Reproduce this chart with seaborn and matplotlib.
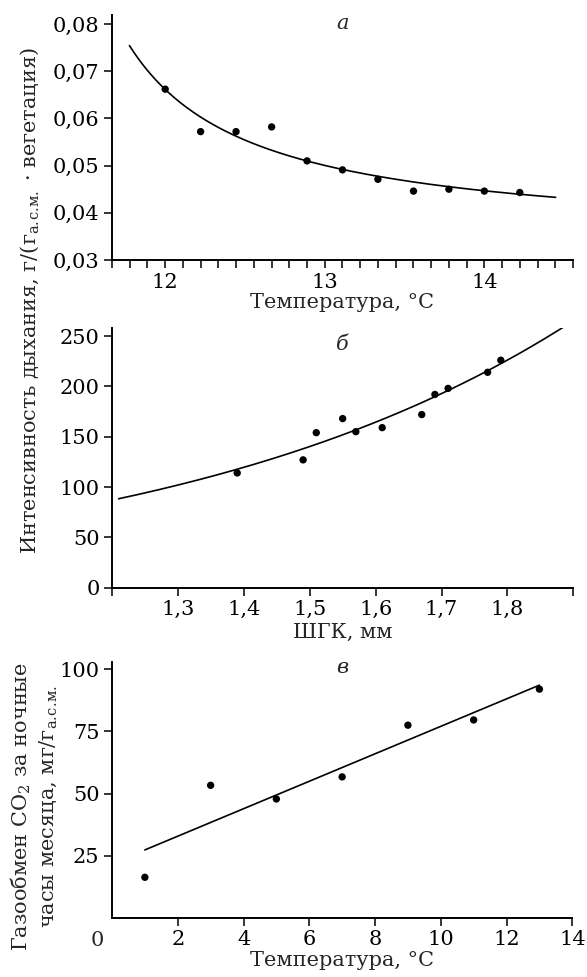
import numpy as np
import pandas as pd
import seaborn as sns
import matplotlib.pyplot as plt
import matplotlib.ticker as mticker

# --- data ---
# panel a: respiration vs temperature
temp_a = [12.0, 12.222, 12.444, 12.667, 12.889, 13.111, 13.333, 13.556, 13.778, 14.0, 14.222]
resp_a = [0.0662, 0.0572, 0.0572, 0.0582, 0.0510, 0.0491, 0.0471, 0.0446, 0.0450, 0.0446, 0.0443]

# panel b: respiration vs ШГК
shgk_b = [1.39, 1.49, 1.51, 1.55, 1.57, 1.61, 1.67, 1.69, 1.71, 1.77, 1.79]
resp_b = [114, 127, 154, 168, 155, 159, 172, 192, 198, 214, 226]

# panel c: night CO2 exchange vs temperature
temp_c = [1, 3, 5, 7, 9, 11, 13]
co2_c = [16.3, 53.3, 47.8, 56.7, 77.5, 79.6, 92.0]

sns.set_theme(style='ticks')
plt.rcParams['font.family'] = ['DejaVu Serif']
plt.rcParams['mathtext.fontset'] = 'dejavuserif'
plt.rcParams['axes.linewidth'] = 1.4
plt.rcParams['xtick.major.width'] = 1.1
plt.rcParams['ytick.major.width'] = 1.1
plt.rcParams['xtick.minor.width'] = 1.1
FS = 15

fig = plt.figure(figsize=(5.87, 9.77), dpi=100)
W, H = 587.0, 977.0


def box(left, top, right, bottom):
    return [left / W, 1 - bottom / H, (right - left) / W, (bottom - top) / H]


ax_a = fig.add_axes(box(112, 14.6, 573, 260))
ax_b = fig.add_axes(box(112, 328, 573.3, 587.7))
ax_c = fig.add_axes(box(112, 661.8, 572.3, 917.8))

comma = lambda nd: mticker.FuncFormatter(lambda v, p: f"{v:.{nd}f}".replace('.', ','))
dot_kw = dict(color='black', s=28, edgecolor='none', alpha=1, zorder=3)

# ---------- panel a ----------
xa = np.array(temp_a)
ka, ba = np.polyfit(1.0 / (xa - 11.0), np.array(resp_a), 1)
fit_a = pd.DataFrame({'x': np.linspace(11.776, 14.447, 200)})
fit_a['y'] = ba + ka / (fit_a['x'] - 11.0)
sns.lineplot(data=fit_a, x='x', y='y', color='black', lw=1.2, ax=ax_a)
sns.scatterplot(x=temp_a, y=resp_a, ax=ax_a, **dot_kw)
ax_a.set_xlim(11 + 6 / 9, 14 + 5 / 9)
ax_a.set_ylim(0.03, 0.082)
ax_a.set_xticks([12, 13, 14])
ax_a.set_xticks(11 + np.arange(6, 33) / 9, minor=True)
ax_a.set_yticks(np.arange(0.03, 0.0801, 0.01))
ax_a.yaxis.set_major_formatter(comma(2))
ax_a.set_xlabel('Температура, °C', fontsize=FS, labelpad=1)
ax_a.set_ylabel('')
ax_a.text(0.5, 0.965, 'а', transform=ax_a.transAxes, ha='center', va='center',
          fontsize=FS, style='italic')

# ---------- panel b ----------
xb = np.array(shgk_b)
yb = np.array(resp_b, dtype=float)
kb, bb = np.polyfit(xb, np.log(yb), 1, w=np.sqrt(yb))
fit_b = pd.DataFrame({'x': np.linspace(1.21, 1.89, 200)})
fit_b['y'] = np.exp(bb + kb * fit_b['x'])
sns.lineplot(data=fit_b, x='x', y='y', color='black', lw=1.2, ax=ax_b)
sns.scatterplot(x=shgk_b, y=resp_b, ax=ax_b, **dot_kw)
ax_b.set_xlim(1.2, 1.9)
ax_b.set_ylim(0, 258)
bt = np.round(np.arange(1.2, 1.91, 0.1), 1)
ax_b.set_xticks(bt)
ax_b.set_xticklabels(['' if v in (1.2, 1.9) else f"{v:.1f}".replace('.', ',') for v in bt])
ax_b.set_yticks(np.arange(0, 251, 50))
ax_b.set_xlabel('ШГК, мм', fontsize=FS, labelpad=3)
ax_b.set_ylabel('')
ax_b.text(0.5, 0.938, 'б', transform=ax_b.transAxes, ha='center', va='center',
          fontsize=FS, style='italic')

# ---------- panel c ----------
sns.regplot(x=temp_c, y=co2_c, ci=None, truncate=True, ax=ax_c,
            scatter_kws=dot_kw, line_kws={'color': 'black', 'lw': 1.2})
ax_c.set_xlim(0, 14)
ax_c.set_ylim(0, 103)
ax_c.set_xticks(np.arange(2, 15, 2))
ax_c.set_yticks([25, 50, 75, 100])
ax_c.set_xlabel('Температура, °C', fontsize=FS, labelpad=1)
ax_c.set_ylabel('')
ax_c.text(0.5, 0.976, 'в', transform=ax_c.transAxes, ha='center', va='center',
          fontsize=FS, style='italic')
fig.text(97 / W, 1 - 940 / H, '0', ha='center', va='center', fontsize=FS)

for ax in (ax_a, ax_b, ax_c):
    sns.despine(ax=ax)
    ax.tick_params(which='both', direction='out', length=6, labelsize=FS,
                   color='black', labelcolor='black')
    ax.tick_params(axis='x', pad=3)
    ax.tick_params(axis='y', pad=3)
    for s in ax.spines.values():
        s.set_color('black')

# mathtext puts a space after every '.', pull it back with \!
sub = '$_{\\mathregular{а.\\!с.\\!м.}}$'
# shared y label for a and b
fig.text(30 / W, 1 - 301 / H,
         'Интенсивность дыхания, г/(г' + sub + ' · вегетация)',
         rotation=90, ha='center', va='center', fontsize=FS)
# y label for c
fig.text(34 / W, 1 - 807 / H,
         'Газообмен CO$_{\\mathregular{2}}$ за ночные\nчасы месяца, мг/г' + sub,
         rotation=90, ha='center', va='center', fontsize=FS, linespacing=1.25)

fig.savefig('out.png', dpi=100, facecolor='white')
